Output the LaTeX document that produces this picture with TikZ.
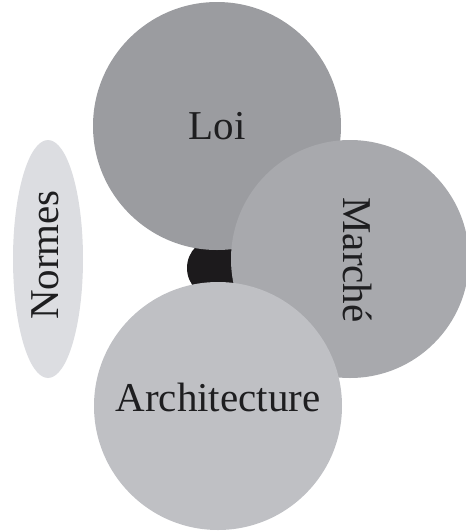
\documentclass[tikz,border=0pt]{standalone}
\usepackage{fontspec}
\setmainfont{Liberation Serif}
\usetikzlibrary{shapes.geometric}
\definecolor{loigray}{RGB}{155,156,160}
\definecolor{marchegray}{RGB}{168,169,173}
\definecolor{archgray}{RGB}{191,192,196}
\definecolor{normesgray}{RGB}{220,221,225}
\definecolor{inkc}{RGB}{30,30,32}
\definecolor{corec}{RGB}{28,26,28}
\tikzset{
  disc/.style={circle, inner sep=0pt, draw=none},
  lbl/.style={font=\fontsize{41}{49}\selectfont, text=inkc, inner sep=0pt, anchor=base}
}
\begin{document}
\begin{tikzpicture}[x=1pt,y=-1pt]
\useasboundingbox (0,0) rectangle (466,531);
\node[disc, fill=corec, minimum size=60pt] (core) at (217,268) {};
\node[disc, fill=loigray, minimum size=248pt] (loi) at (217,126) {};
\node[disc, fill=marchegray, minimum size=238pt] (marche) at (350,259) {};
\node[disc, fill=archgray, minimum size=248pt] (arch) at (218,406) {};
\node[ellipse, inner sep=0pt, draw=none, fill=normesgray, minimum width=70pt, minimum height=238pt] (normes) at (48,259) {};
\node[lbl] (tloi) at (217,139) {Loi};
\node[lbl] (tarch) at (218,411) {Architecture};
\node[lbl, rotate=90] (tnormes) at (59,255) {Normes};
\node[lbl, rotate=-90] (tmarche) at (343,260) {Marché};
\end{tikzpicture}
\end{document}
